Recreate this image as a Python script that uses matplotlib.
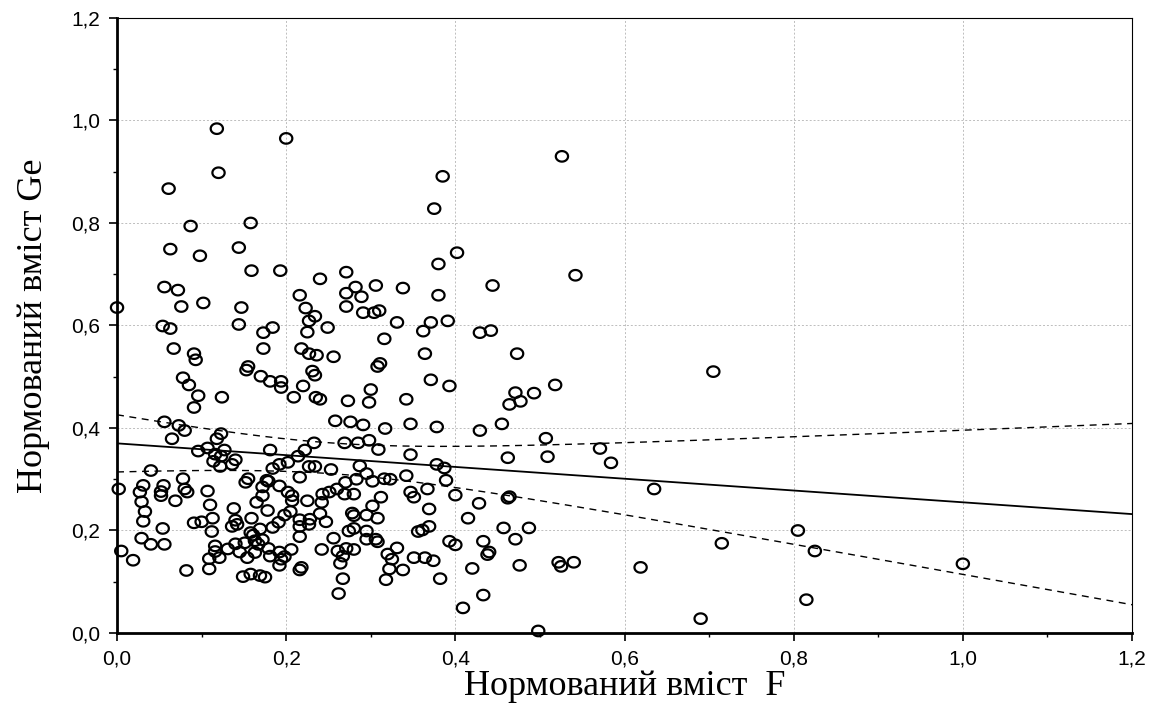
import numpy as np
import matplotlib
matplotlib.use("Agg")
import matplotlib.pyplot as plt
from matplotlib.path import Path
from matplotlib.ticker import FuncFormatter, MultipleLocator

# Нормований вміст F (вісь X)
f_vals = [
    0.118, 0.120, 0.061, 0.087, 0.158, 0.063, 0.098, 0.144, 0.159, 0.056,
    0.072, 0.102, 0.076, 0.000, 0.147, 0.054, 0.063, 0.144, 0.200, 0.193,
    0.240, 0.271, 0.216, 0.282, 0.306, 0.271, 0.289, 0.223, 0.271, 0.234,
    0.227, 0.291, 0.304, 0.310, 0.184, 0.249, 0.385, 0.375, 0.402, 0.380,
    0.338, 0.444, 0.380, 0.331, 0.371, 0.391, 0.362, 0.526, 0.542,
    # 0.4 - 0.6 band, left
    0.067, 0.091, 0.093, 0.155, 0.153, 0.078, 0.085, 0.096, 0.124, 0.091,
    0.056, 0.073, 0.080, 0.123, 0.118, 0.065, 0.096, 0.107, 0.116, 0.127,
    0.123, 0.114, 0.140, 0.136, 0.122, 0.040, 0.078, 0.155, 0.152,
    # middle
    0.173, 0.225, 0.316, 0.173, 0.218, 0.227, 0.236, 0.256, 0.311, 0.308,
    0.170, 0.181, 0.194, 0.194, 0.231, 0.234, 0.220, 0.209, 0.235, 0.240,
    0.273, 0.298, 0.300, 0.258, 0.276, 0.291, 0.317, 0.233, 0.269, 0.285,
    0.298, 0.309, 0.181, 0.222, 0.214, 0.202, 0.192, 0.184, 0.227, 0.234,
    0.253, 0.287, 0.295, 0.216, 0.177, 0.270, 0.283, 0.302, 0.316,
    0.429, 0.442, 0.364, 0.473, 0.371, 0.393, 0.342, 0.471, 0.464, 0.477,
    0.347, 0.378, 0.429, 0.455, 0.347, 0.462, 0.378, 0.387, 0.342, 0.323,
    0.389, 0.518, 0.493, 0.507, 0.509, 0.571, 0.584,
    # lower left
    0.002, 0.031, 0.055, 0.027, 0.052, 0.052, 0.080, 0.083, 0.069, 0.029,
    0.033, 0.031, 0.054, 0.029, 0.040, 0.056, 0.005, 0.019, 0.082, 0.107,
    0.110, 0.138, 0.091, 0.100, 0.113, 0.112, 0.140, 0.142, 0.136, 0.159,
    0.165, 0.158, 0.161, 0.116, 0.116, 0.131, 0.140, 0.151, 0.145, 0.154,
    0.121, 0.109, 0.109, 0.149, 0.158, 0.163,
    # lower middle
    0.179, 0.192, 0.172, 0.172, 0.202, 0.207, 0.207, 0.225, 0.178, 0.198,
    0.205, 0.191, 0.184, 0.216, 0.216, 0.228, 0.227, 0.240, 0.247, 0.243,
    0.251, 0.260, 0.269, 0.280, 0.242, 0.312, 0.302, 0.295, 0.308, 0.278,
    0.280, 0.274, 0.280, 0.295, 0.295, 0.306, 0.308, 0.256, 0.242, 0.261,
    0.271, 0.280, 0.267, 0.264, 0.267, 0.262, 0.169, 0.163, 0.172, 0.167,
    0.179, 0.181, 0.192, 0.194, 0.192, 0.198, 0.206, 0.216, 0.169, 0.175,
    0.216, 0.218,
    # lower right
    0.367, 0.347, 0.351, 0.400, 0.428, 0.462, 0.464, 0.369, 0.415, 0.356,
    0.361, 0.369, 0.457, 0.393, 0.400, 0.433, 0.471, 0.331, 0.320, 0.325,
    0.322, 0.318, 0.338, 0.351, 0.364, 0.374, 0.382, 0.438, 0.440, 0.420,
    0.476, 0.433, 0.409,
    0.635, 0.487, 0.522, 0.525, 0.540, 0.619, 0.498,
    0.690, 0.705, 0.715, 0.805, 0.815, 0.825, 1.000,
]

# Нормований вміст Ge (вісь Y)
ge_vals = [
    0.984, 0.898, 0.867, 0.794, 0.800, 0.749, 0.736, 0.752, 0.707, 0.675,
    0.669, 0.644, 0.637, 0.635, 0.635, 0.599, 0.594, 0.602, 0.965, 0.707,
    0.691, 0.704, 0.659, 0.675, 0.678, 0.663, 0.656, 0.634, 0.637, 0.618,
    0.609, 0.625, 0.625, 0.629, 0.596, 0.596, 0.891, 0.828, 0.742, 0.720,
    0.673, 0.678, 0.659, 0.606, 0.606, 0.609, 0.589, 0.930, 0.698,
    0.555, 0.545, 0.533, 0.520, 0.513, 0.498, 0.484, 0.463, 0.460, 0.440,
    0.412, 0.405, 0.395, 0.389, 0.379, 0.379, 0.355, 0.361, 0.349, 0.357,
    0.345, 0.335, 0.338, 0.329, 0.325, 0.317, 0.301, 0.301, 0.294,
    0.586, 0.587, 0.574, 0.555, 0.555, 0.545, 0.542, 0.539, 0.526, 0.520,
    0.501, 0.491, 0.491, 0.479, 0.511, 0.503, 0.482, 0.460, 0.460, 0.456,
    0.453, 0.450, 0.475, 0.414, 0.412, 0.406, 0.399, 0.371, 0.371, 0.371,
    0.376, 0.358, 0.357, 0.357, 0.345, 0.333, 0.329, 0.321, 0.325, 0.325,
    0.319, 0.326, 0.311, 0.304, 0.298, 0.294, 0.300, 0.296, 0.301,
    0.586, 0.590, 0.545, 0.545, 0.494, 0.482, 0.456, 0.469, 0.446, 0.452,
    0.408, 0.402, 0.395, 0.408, 0.348, 0.342, 0.329, 0.322, 0.307, 0.300,
    0.298, 0.484, 0.468, 0.380, 0.344, 0.360, 0.332,
    0.281, 0.288, 0.288, 0.275, 0.276, 0.268, 0.281, 0.275, 0.258, 0.256,
    0.237, 0.218, 0.204, 0.185, 0.173, 0.173, 0.160, 0.142, 0.122, 0.277,
    0.250, 0.243, 0.215, 0.217, 0.224, 0.198, 0.220, 0.212, 0.208, 0.224,
    0.255, 0.196, 0.191, 0.170, 0.159, 0.164, 0.174, 0.176, 0.158, 0.147,
    0.147, 0.145, 0.125, 0.110, 0.115, 0.157,
    0.296, 0.287, 0.285, 0.268, 0.275, 0.268, 0.258, 0.258, 0.239, 0.230,
    0.237, 0.216, 0.206, 0.221, 0.208, 0.222, 0.212, 0.233, 0.217, 0.271,
    0.275, 0.281, 0.271, 0.271, 0.255, 0.265, 0.248, 0.230, 0.224, 0.234,
    0.229, 0.199, 0.204, 0.199, 0.183, 0.183, 0.178, 0.185, 0.163, 0.160,
    0.165, 0.163, 0.150, 0.136, 0.106, 0.077, 0.203, 0.180, 0.182, 0.173,
    0.165, 0.150, 0.158, 0.144, 0.132, 0.149, 0.163, 0.188, 0.112, 0.109,
    0.123, 0.128,
    0.281, 0.275, 0.265, 0.269, 0.253, 0.263, 0.266, 0.242, 0.224, 0.198,
    0.201, 0.208, 0.205, 0.179, 0.172, 0.179, 0.183, 0.166, 0.154, 0.144,
    0.125, 0.104, 0.123, 0.147, 0.147, 0.141, 0.106, 0.153, 0.158, 0.126,
    0.132, 0.074, 0.049,
    0.281, 0.205, 0.138, 0.130, 0.138, 0.128, 0.004,
    0.028, 0.510, 0.175, 0.200, 0.065, 0.160, 0.135,
]

x_ticks = [0.0, 0.2, 0.4, 0.6, 0.8, 1.0, 1.2]
y_ticks = [0.0, 0.2, 0.4, 0.6, 0.8, 1.0, 1.2]

# параметри регресії та 95% довірчої смуги
reg_intercept = 0.370
reg_slope = -0.115
band_center_x = 0.255      # де смуга найвужча
band_min_hw = 0.030        # півширина смуги в найвужчому місці
band_curv = 0.034          # кривизна смуги

x = np.array(f_vals)
y = np.array(ge_vals)

xs = np.linspace(0, 1.2, 200)
yfit = reg_intercept + reg_slope * xs
hw = np.sqrt(band_min_hw ** 2 + band_curv * (xs - band_center_x) ** 2)

# трохи приплюснутий кружечок, як у Statistica
t = np.linspace(0, 2 * np.pi, 40)
ell = Path(np.column_stack([np.cos(t), 0.86 * np.sin(t)]), closed=True)

fig = plt.figure(figsize=(11.53, 7.13), dpi=100)
ax = fig.add_axes([0.1015, 0.1122, 0.8803, 0.8626])

ax.plot(xs, yfit, color="black", lw=1.3, zorder=3)
ax.plot(xs, yfit + hw, color="black", lw=1.0, ls=(0, (5, 4)), zorder=3)
ax.plot(xs, yfit - hw, color="black", lw=1.0, ls=(0, (5, 4)), zorder=3)
ax.scatter(x, y, marker=ell, s=78, facecolors="none", edgecolors="black",
           linewidths=1.6, zorder=4, clip_on=False)

ax.set_xlim(0, 1.2)
ax.set_ylim(0, 1.2)
ax.set_xticks(x_ticks)
ax.set_yticks(y_ticks)
ax.xaxis.set_minor_locator(MultipleLocator(0.1))
ax.yaxis.set_minor_locator(MultipleLocator(0.1))
fmt = FuncFormatter(lambda v, p: f"{v:.1f}".replace(".", ","))
ax.xaxis.set_major_formatter(fmt)
ax.yaxis.set_major_formatter(fmt)

ax.grid(True, which="major", color="#bdbdbd", ls=(0, (2, 2)), lw=0.7)
ax.set_axisbelow(True)

for side in ["left", "bottom"]:
    ax.spines[side].set_linewidth(2.0)
for side in ["top", "right"]:
    ax.spines[side].set_linewidth(0.8)

ax.tick_params(which="major", direction="out", length=6, width=1.2,
               labelsize=15, pad=6)
ax.tick_params(which="minor", direction="out", length=3, width=1.0)
for lbl in ax.get_xticklabels() + ax.get_yticklabels():
    lbl.set_family("Liberation Sans")

ax.set_xlabel("Нормований вміст  F", family="Liberation Serif", fontsize=26,
              labelpad=1)
ax.set_ylabel("Нормований вміст Ge", family="Liberation Serif", fontsize=26,
              labelpad=15)

fig.savefig("out.png", dpi=100)
